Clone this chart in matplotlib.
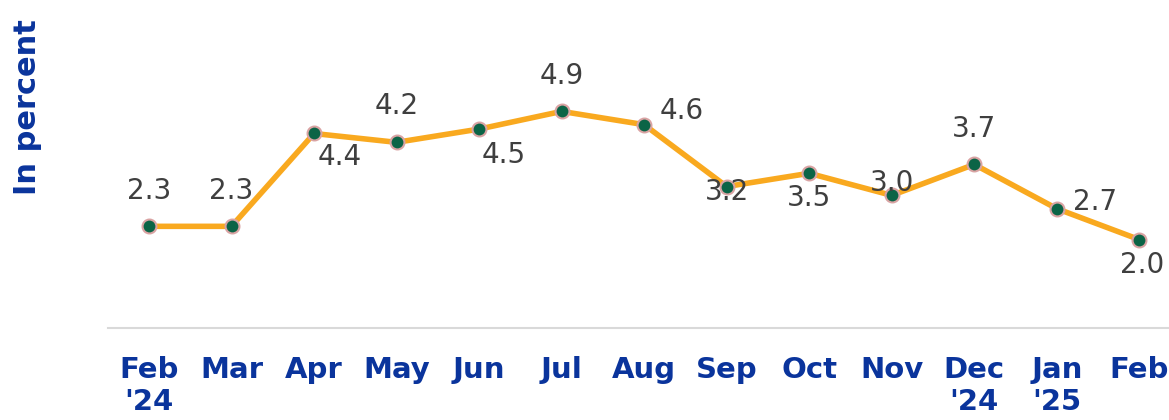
import matplotlib
matplotlib.use("Agg")
import matplotlib.pyplot as plt

# monthly values (in percent)
months = ["Feb\n'24", "Mar", "Apr", "May", "Jun", "Jul", "Aug", "Sep",
          "Oct", "Nov", "Dec\n'24", "Jan\n'25", "Feb"]
values = [2.3, 2.3, 4.4, 4.2, 4.5, 4.9, 4.6, 3.2, 3.5, 3.0, 3.7, 2.7, 2.0]

# label offsets in pixels (dx, dy)
label_offsets = [(0, 35), (0, 35), (26, -24), (0, 36), (25, -26), (0, 35),
                 (38, 14), (0, -5), (0, -25), (0, 12), (0, 35), (38, 7),
                 (3, -25)]

BLUE = "#0a349c"
ORANGE = "#f9a91f"

fig = plt.figure(figsize=(11.69, 4.2), dpi=100)
ax = fig.add_axes([108 / 1169, 1 - 328 / 420, 1 - 108 / 1169, 328 / 420])

x = list(range(len(values)))
ax.plot(x, values, color=ORANGE, lw=4, zorder=2, solid_capstyle="round")
ax.plot(x, values, ls="none", marker="o", ms=10, mfc="#0b6446",
        mec="#d9a3a3", mew=1.5, zorder=3)

for xi, v, (dx, dy) in zip(x, values, label_offsets):
    ax.annotate(f"{v:.1f}", (xi, v), xytext=(dx, dy), textcoords="offset pixels",
                ha="center", va="center", fontsize=20, color="#3f3f3f", zorder=4)

ax.set_xlim(-0.497, 12.36)
ax.set_ylim(0, 7.42)
ax.set_xticks(x)
ax.set_xticklabels(months, fontsize=21, fontweight="bold", color=BLUE,
                   linespacing=1.2)
ax.tick_params(axis="x", length=0, pad=20)
ax.set_yticks([])
for s in ["top", "right", "left"]:
    ax.spines[s].set_visible(False)
ax.spines["bottom"].set_color("#d9d9d9")
ax.spines["bottom"].set_linewidth(1.5)

fig.text(28 / 1169, 1 - 107 / 420, "In percent", rotation=90, ha="center",
         va="center", fontsize=22, fontweight="bold", color=BLUE)

fig.savefig("out.png", dpi=100)
